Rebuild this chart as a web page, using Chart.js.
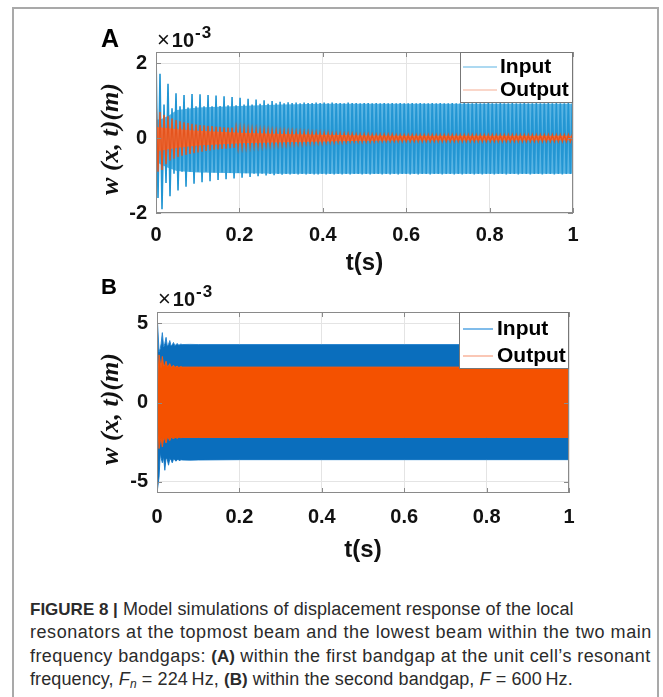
<!DOCTYPE html>
<html>
<head>
<meta charset="utf-8">
<script src="https://cdn.jsdelivr.net/npm/chart.js@4.4.1/dist/chart.umd.min.js"></script>
<style>
html,body{margin:0;padding:0;background:#fff;}
body{position:relative;width:663px;height:697px;overflow:hidden;font-family:"Liberation Sans",Arial,sans-serif;}
.frame{position:absolute;left:12px;top:7px;width:647px;height:720px;border:2px solid #a9a9a9;box-sizing:border-box;}
canvas{position:absolute;left:0;}
#chartA{top:0;}
#chartB{top:280px;}
.panel{position:absolute;font-weight:bold;color:#000;}
.mult{position:absolute;font-weight:bold;font-size:20px;line-height:20px;color:#111;white-space:nowrap;}
.mult .x{font-weight:normal;font-size:22px;margin-right:2px;}
.mult .e{font-size:17px;position:relative;top:-9px;margin-left:1px;letter-spacing:1px;}
.cap{position:absolute;left:30px;font-size:18px;line-height:18px;color:#2b2b2b;white-space:nowrap;}
.cap b{letter-spacing:0;font-size:17px;}
.cap sub{font-size:12px;line-height:0;vertical-align:-3px;}
</style>
</head>
<body>
<div class="frame"></div>
<canvas id="chartA" width="663" height="280"></canvas>
<canvas id="chartB" width="663" height="290"></canvas>
<div class="panel" style="left:101px;top:25.8px;font-size:25px;line-height:25px;">A</div>
<div class="mult" style="left:157px;top:29.6px;"><span class="x">×</span>10<span class="e">-3</span></div>
<div class="panel" style="left:101px;top:276.4px;font-size:22px;line-height:22px;">B</div>
<div class="mult" style="left:158px;top:289px;"><span class="x">×</span>10<span class="e">-3</span></div>
<div class="cap" style="top:599.8px;letter-spacing:0.08px;"><b>FIGURE 8 |</b> Model simulations of displacement response of the local</div>
<div class="cap" style="top:623.1px;letter-spacing:0.55px;">resonators at the topmost beam and the lowest beam within the two main</div>
<div class="cap" style="top:646.5px;letter-spacing:0.41px;">frequency bandgaps: <b>(A)</b> within the first bandgap at the unit cell’s resonant</div>
<div class="cap" style="top:669.8px;letter-spacing:0.1px;">frequency, <i>F</i><sub><i>n</i></sub> = 224&#8201;Hz, <b>(B)</b> within the second bandgap, <i>F</i> = 600&#8201;Hz.</div>
<script>
// ---- shared axis data ----
const seriesNames = ['Input', 'Output'];
const xTicks = [0, 0.2, 0.4, 0.6, 0.8, 1];
const yTicksA = [-2, 0, 2];
const yTicksB = [-5, 0, 5];

// ---- panel A: F_n = 224 Hz, displacement peaks (x1e-3 m), one max/min pair per cycle ----
const cyclePeriodA = 0.0096;
const inputUpperA = [
  2.28, 1.72, 0.90, 1.45, 0.80, 1.20, 0.85, 1.15, 0.82, 1.18,
  0.85, 1.17, 0.85, 1.15, 0.85, 1.14, 0.86, 1.12, 0.88, 1.10,
  0.88, 1.08, 0.90, 1.05, 0.90, 1.03, 0.92, 1.01, 0.92, 0.99,
  0.93, 0.97, 0.93, 0.96, 0.94, 0.95, 0.93, 0.95, 0.94, 0.94,
  0.95, 0.94, 0.95, 0.93, 0.95, 0.94, 0.94, 0.93, 0.95, 0.94,
  0.94, 0.93, 0.94, 0.94, 0.93, 0.94, 0.93, 0.94, 0.93, 0.94,
  0.93, 0.94, 0.93, 0.93, 0.94, 0.93, 0.94, 0.93, 0.93, 0.94,
  0.93, 0.94, 0.93, 0.93, 0.94, 0.93, 0.93, 0.94, 0.93, 0.93,
  0.94, 0.93, 0.93, 0.94, 0.93, 0.93, 0.94, 0.93, 0.93, 0.94,
  0.93, 0.93, 0.94, 0.93, 0.93, 0.94, 0.93, 0.93, 0.94, 0.93,
  0.94, 0.93, 0.93, 0.94, 0.93
];
const inputLowerA = [
  -1.60, -1.90, -1.20, -1.55, -0.95, -1.40, -0.90, -1.30, -0.90, -1.22,
  -0.90, -1.18, -0.90, -1.15, -0.92, -1.12, -0.92, -1.10, -0.93, -1.08,
  -0.93, -1.06, -0.94, -1.04, -0.95, -1.02, -0.95, -1.00, -0.96, -0.99,
  -0.96, -0.98, -0.96, -0.97, -0.96, -0.97, -0.96, -0.97, -0.96, -0.97,
  -0.97, -0.96, -0.97, -0.96, -0.97, -0.96, -0.97, -0.96, -0.97, -0.96,
  -0.96, -0.97, -0.96, -0.97, -0.96, -0.96, -0.97, -0.96, -0.97, -0.96,
  -0.97, -0.96, -0.96, -0.97, -0.96, -0.97, -0.96, -0.96, -0.97, -0.96,
  -0.96, -0.97, -0.96, -0.96, -0.97, -0.96, -0.97, -0.96, -0.96, -0.97,
  -0.96, -0.97, -0.96, -0.96, -0.97, -0.96, -0.96, -0.97, -0.96, -0.96,
  -0.97, -0.96, -0.96, -0.97, -0.96, -0.96, -0.97, -0.96, -0.96, -0.97,
  -0.96, -0.97, -0.96, -0.96, -0.97
];
const outputUpperA = [
  1.15, 0.70, 0.62, 0.58, 0.52, 0.48, 0.45, 0.42, 0.40, 0.38,
  0.36, 0.35, 0.34, 0.33, 0.32, 0.31, 0.30, 0.29, 0.28, 0.28,
  0.27, 0.26, 0.25, 0.24, 0.24, 0.23, 0.22, 0.22, 0.21, 0.20,
  0.20, 0.19, 0.19, 0.18, 0.18, 0.17, 0.17, 0.16, 0.16, 0.15,
  0.15, 0.15, 0.14, 0.14, 0.13, 0.13, 0.13, 0.12, 0.12, 0.12,
  0.11, 0.11, 0.11, 0.11, 0.10, 0.10, 0.10, 0.10, 0.10, 0.10,
  0.09, 0.09, 0.09, 0.09, 0.09, 0.09, 0.09, 0.09, 0.09, 0.09,
  0.09, 0.09, 0.09, 0.09, 0.09, 0.09, 0.09, 0.09, 0.09, 0.09,
  0.09, 0.09, 0.09, 0.09, 0.09, 0.09, 0.09, 0.09, 0.09, 0.09,
  0.09, 0.09, 0.09, 0.09, 0.09, 0.09, 0.09, 0.09, 0.09, 0.09,
  0.09, 0.09, 0.09, 0.09, 0.09
];
const outputLowerA = [
  -0.90, -0.85, -0.70, -0.60, -0.55, -0.50, -0.47, -0.45, -0.42, -0.40,
  -0.38, -0.36, -0.34, -0.33, -0.31, -0.30, -0.29, -0.28, -0.27, -0.26,
  -0.25, -0.24, -0.23, -0.22, -0.21, -0.21, -0.20, -0.19, -0.19, -0.18,
  -0.18, -0.17, -0.17, -0.16, -0.16, -0.15, -0.15, -0.14, -0.14, -0.13,
  -0.13, -0.13, -0.12, -0.12, -0.12, -0.11, -0.11, -0.11, -0.10, -0.10,
  -0.10, -0.10, -0.10, -0.10, -0.10, -0.09, -0.09, -0.09, -0.09, -0.09,
  -0.09, -0.09, -0.09, -0.09, -0.09, -0.09, -0.09, -0.09, -0.09, -0.09,
  -0.09, -0.09, -0.09, -0.09, -0.09, -0.09, -0.09, -0.09, -0.09, -0.09,
  -0.09, -0.09, -0.09, -0.09, -0.09, -0.09, -0.09, -0.09, -0.09, -0.09,
  -0.09, -0.09, -0.09, -0.09, -0.09, -0.09, -0.09, -0.09, -0.09, -0.09,
  -0.09, -0.09, -0.09, -0.09, -0.09
];
// densely covered core of each trace (between successive peaks)
const inputCoreTimesA = [0, 0.01, 0.03, 0.05, 0.10, 0.20, 0.30, 0.40, 1.00];
const inputCoreUpperA = [0.50, 0.50, 0.60, 0.75, 0.82, 0.86, 0.90, 0.92, 0.92];
const inputCoreLowerA = [-0.60, -0.70, -0.80, -0.88, -0.92, -0.94, -0.95, -0.95, -0.95];
const outputCoreTimesA = [0, 0.02, 0.05, 0.10, 0.20, 0.30, 0.40, 0.50, 0.60, 1.00];
const outputCoreUpperA = [0.30, 0.28, 0.24, 0.20, 0.14, 0.11, 0.09, 0.07, 0.06, 0.06];
const outputCoreLowerA = [-0.35, -0.32, -0.26, -0.20, -0.14, -0.11, -0.09, -0.07, -0.06, -0.06];

// ---- panel B: F = 600 Hz, response envelopes (x1e-3 m) ----
const timesB = [0, 0.005, 0.008, 0.010, 0.013, 0.016, 0.019, 0.022, 0.025, 0.028,
  0.031, 0.034, 0.037, 0.040, 0.043, 0.046, 0.049, 0.052, 0.055, 0.058,
  0.061, 0.080, 0.100, 0.200, 0.400, 0.600, 0.800, 1.000];
const inputUpperB = [5.65, 3.20, 3.40, 3.70, 4.40, 3.50, 3.70, 4.10, 3.55, 3.65,
  3.90, 3.58, 3.62, 3.78, 3.60, 3.62, 3.72, 3.62, 3.64, 3.68,
  3.65, 3.66, 3.65, 3.65, 3.65, 3.65, 3.65, 3.65];
const inputLowerB = [-5.70, -4.70, -3.20, -3.50, -3.80, -3.45, -4.27, -3.50, -3.60, -3.95,
  -3.55, -3.60, -3.80, -3.58, -3.60, -3.70, -3.60, -3.60, -3.68, -3.60,
  -3.62, -3.63, -3.62, -3.60, -3.60, -3.60, -3.60, -3.60];
const outputUpperB = [0.30, 3.00, 2.50, 2.20, 2.90, 2.30, 2.35, 2.60, 2.25, 2.30,
  2.45, 2.22, 2.25, 2.35, 2.22, 2.24, 2.30, 2.22, 2.23, 2.26,
  2.23, 2.23, 2.23, 2.23, 2.23, 2.23, 2.23, 2.23];
const outputLowerB = [-0.30, -2.90, -2.40, -2.20, -2.80, -2.25, -2.30, -2.55, -2.20, -2.25,
  -2.40, -2.20, -2.22, -2.30, -2.20, -2.20, -2.26, -2.20, -2.20, -2.22,
  -2.20, -2.20, -2.20, -2.20, -2.20, -2.20, -2.20, -2.20];

// ---- helpers ----
function zigzag(upper, lower, period) {
  const pts = [];
  for (let i = 0; i < upper.length; i++) {
    pts.push({x: i * period, y: upper[i]});
    pts.push({x: i * period + period / 2, y: lower[i]});
  }
  return pts;
}
function envelope(times, values) {
  return times.map((t, i) => ({x: t, y: values[i]}));
}
function tickText(v) {
  return String(Math.round(v * 10) / 10);
}

const sansFamily = '"Liberation Sans", Arial, Helvetica, sans-serif';
const tickFont = {family: sansFamily, weight: 'bold', size: 20};

// box around the axes, inward tick marks and an in-plot legend
const axesBox = {
  id: 'axesBox',
  afterDatasetsDraw(chart, args, o) {
    const {ctx, chartArea: a, scales} = chart;
    ctx.save();
    ctx.strokeStyle = o.edgeColor;
    ctx.lineWidth = 1;
    ctx.beginPath();
    scales.x.ticks.forEach(t => {
      const px = Math.round(scales.x.getPixelForValue(t.value)) + 0.5;
      ctx.moveTo(px, a.bottom); ctx.lineTo(px, a.bottom - o.tickLen);
      ctx.moveTo(px, a.top); ctx.lineTo(px, a.top + o.tickLen);
    });
    scales.y.ticks.forEach(t => {
      const py = Math.round(scales.y.getPixelForValue(t.value)) + 0.5;
      ctx.moveTo(a.left, py); ctx.lineTo(a.left + o.tickLen, py);
      ctx.moveTo(a.right, py); ctx.lineTo(a.right - o.tickLen, py);
    });
    ctx.stroke();
    const l = Math.round(a.left), t = Math.round(a.top);
    const r = Math.round(a.right), b = Math.round(a.bottom);
    ctx.strokeRect(l + 0.5, t + 0.5, r - l - 1, b - t - 1);

    const L = o.legend;
    const bx = r - L.width, by = t;
    ctx.fillStyle = '#ffffff';
    ctx.fillRect(bx, by, L.width, L.height);
    ctx.strokeStyle = L.edgeColor;
    ctx.strokeRect(bx + 0.5, by + 0.5, L.width - 1, L.height - 1);
    ctx.font = L.font;
    ctx.textAlign = 'left';
    ctx.textBaseline = 'middle';
    L.items.forEach((idx, k) => {
      const ds = chart.data.datasets[idx];
      const y = by + L.rowY[k];
      ctx.strokeStyle = L.sampleColors[k];
      ctx.lineWidth = L.sampleWidth;
      ctx.beginPath();
      ctx.moveTo(bx + L.lineX[0], y);
      ctx.lineTo(bx + L.lineX[1], y);
      ctx.stroke();
      ctx.fillStyle = '#000';
      ctx.fillText(ds.label, bx + L.textX, y);
    });
    ctx.restore();
  }
};

function scalesFor(yMin, yMax, yTicks, yWidth, xHeight, xPad, yTitle) {
  return {
    x: {
      type: 'linear', min: 0, max: 1,
      afterBuildTicks: s => { s.ticks = xTicks.map(v => ({value: v})); },
      afterFit: s => { s.height = xHeight; },
      grid: {color: '#e4e4e4', lineWidth: 1, drawTicks: false},
      border: {display: false},
      ticks: {font: tickFont, color: '#111', padding: xPad, maxRotation: 0, autoSkip: false, callback: v => tickText(v)},
      title: {display: true, text: 't(s)', color: '#111', padding: 0,
        font: {family: sansFamily, weight: 'bold', size: 24}}
    },
    y: {
      type: 'linear', min: yMin, max: yMax,
      afterBuildTicks: s => { s.ticks = yTicks.map(v => ({value: v})); },
      afterFit: s => { s.width = yWidth; },
      grid: {color: '#e4e4e4', lineWidth: 1, drawTicks: false},
      border: {display: false},
      ticks: {font: tickFont, color: '#111', padding: 9, autoSkip: false, callback: v => tickText(v)},
      title: {display: true, text: yTitle, color: '#111', padding: 0,
        font: {family: '"Liberation Serif", "Times New Roman", serif', style: 'italic', weight: 'bold', size: 26}}
    }
  };
}

const commonOptions = {
  responsive: false,
  animation: false,
  devicePixelRatio: 1,
  events: [],
  elements: {point: {radius: 0}, line: {tension: 0}}
};

// Panel A (datasets drawn from last to first: blue core, blue trace, orange core, orange trace)
new Chart(document.getElementById('chartA'), {
  type: 'line',
  data: {
    datasets: [
      {label: seriesNames[1], data: zigzag(outputUpperA, outputLowerA, cyclePeriodA),
        borderColor: '#e5541d', borderWidth: 1.4, fill: false},
      {label: seriesNames[1] + ' core', data: envelope(outputCoreTimesA, outputCoreUpperA),
        borderWidth: 0, borderColor: 'rgba(0,0,0,0)', backgroundColor: '#ec7446', fill: '+1'},
      {label: seriesNames[1] + ' core min', data: envelope(outputCoreTimesA, outputCoreLowerA),
        borderWidth: 0, borderColor: 'rgba(0,0,0,0)', fill: false},
      {label: seriesNames[0], data: zigzag(inputUpperA, inputLowerA, cyclePeriodA),
        borderColor: '#2396d3', borderWidth: 1.6, fill: false},
      {label: seriesNames[0] + ' core', data: envelope(inputCoreTimesA, inputCoreUpperA),
        borderWidth: 0, borderColor: 'rgba(0,0,0,0)', backgroundColor: '#5ab4e3', fill: '+1'},
      {label: seriesNames[0] + ' core min', data: envelope(inputCoreTimesA, inputCoreLowerA),
        borderWidth: 0, borderColor: 'rgba(0,0,0,0)', fill: false}
    ]
  },
  options: Object.assign({}, commonOptions, {
    layout: {padding: {left: 96, right: 90, top: 52, bottom: 2.6}},
    scales: scalesFor(-2, 2.3, yTicksA, 60, 64.4, 10, 'w (x, t)(m)  '),
    plugins: {
      legend: {display: false},
      tooltip: {enabled: false},
      filler: {propagate: false},
      axesBox: {
        edgeColor: '#8a8a8a', tickLen: 5,
        legend: {width: 113, height: 51, rowY: [15, 38], lineX: [3, 37], textX: 40,
          items: [3, 0], sampleColors: ['#5cb3e4', '#f5ad93'], sampleWidth: 1.2,
          edgeColor: '#777', font: 'bold 21px ' + sansFamily}
      }
    }
  }),
  plugins: [axesBox]
});

// Panel B
new Chart(document.getElementById('chartB'), {
  type: 'line',
  data: {
    datasets: [
      {label: seriesNames[1], data: envelope(timesB, outputUpperB),
        borderColor: '#f45a12', backgroundColor: '#f45100', borderWidth: 1, fill: '+1'},
      {label: seriesNames[1] + ' min', data: envelope(timesB, outputLowerB),
        borderColor: '#f45a12', borderWidth: 1, fill: false},
      {label: seriesNames[0], data: envelope(timesB, inputUpperB),
        borderColor: '#2a86cf', backgroundColor: '#0a6ebd', borderWidth: 1, fill: '+1'},
      {label: seriesNames[0] + ' min', data: envelope(timesB, inputLowerB),
        borderColor: '#2a86cf', borderWidth: 1, fill: false}
    ]
  },
  options: Object.assign({}, commonOptions, {
    layout: {padding: {left: 96, right: 94, top: 32, bottom: 5.6}},
    scales: scalesFor(-5.7, 5.7, yTicksB, 61, 71.4, 12, 'w (x, t)(m)  '),
    plugins: {
      legend: {display: false},
      tooltip: {enabled: false},
      filler: {propagate: false},
      axesBox: {
        edgeColor: '#8a8a8a', tickLen: 5,
        legend: {width: 110, height: 57, rowY: [17, 44], lineX: [4, 34], textX: 38,
          items: [2, 0], sampleColors: ['#2b8fdc', '#f7a283'], sampleWidth: 1.2,
          edgeColor: '#777', font: 'bold 21px ' + sansFamily}
      }
    }
  }),
  plugins: [axesBox]
});
</script>
</body>
</html>
